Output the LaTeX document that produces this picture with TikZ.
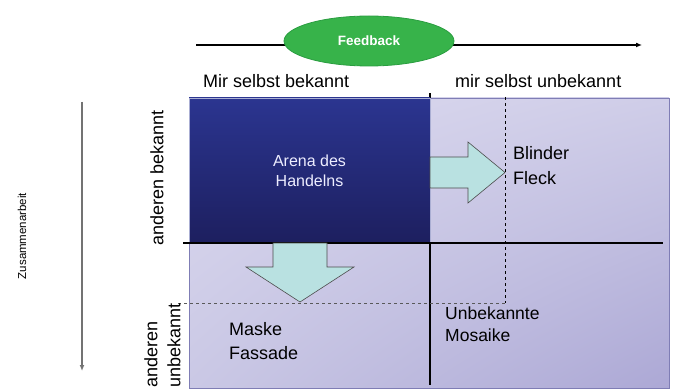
\documentclass[tikz,border=0pt]{standalone}
\usepackage{fontspec}
\setmainfont{Liberation Sans}
\usepackage{xcolor}
\usetikzlibrary{arrows.meta, positioning, shapes.geometric, shadings}

\definecolor{lavUL}{HTML}{DCDAEF}
\definecolor{lavUR}{HTML}{CFCDE8}
\definecolor{lavLL}{HTML}{CAC8E5}
\definecolor{lavLR}{HTML}{ACA8D5}
\definecolor{lavEdge}{HTML}{7F7DB5}
\definecolor{arenaTop}{HTML}{2B3590}
\definecolor{arenaBot}{HTML}{1D1F5F}
\definecolor{tealFill}{HTML}{B9E1E1}
\definecolor{fbGreen}{HTML}{37B34A}
\definecolor{fbEdge}{HTML}{2A9D40}

\begin{document}
\begin{tikzpicture}[x=1pt, y=-1pt,
    font=\fontsize{18}{23}\selectfont,
    axisline/.style={line width=1.4pt, -{Latex[length=6pt, width=5pt]}},
    gridline/.style={line width=1.4pt},
    guide/.style={dashed, line width=0.7pt, dash pattern=on 3pt off 3pt},
    blockarrow/.style={fill=tealFill, draw=black!70, line width=0.6pt},
    quadtext/.style={inner sep=0pt, align=left, anchor=west}]
  \useasboundingbox (0,0) rectangle (679,390);

  % Johari field
  \node[draw=lavEdge, line width=0.6pt, inner sep=0pt, minimum width=480pt, minimum height=290pt,
        upper left=lavUL, upper right=lavUR, lower left=lavLL, lower right=lavLR] (field) at (429,243) {};
  \coordinate (vtop) at (430,93);
  \coordinate (vbot) at (430,385);
  \draw[gridline] (vtop) -- (vbot);
  \node[draw=white!60!arenaTop, line width=0.6pt, top color=arenaTop, bottom color=arenaBot,
        minimum width=241pt, minimum height=145pt, inner sep=0pt,
        text=white!93!blue, align=center, font=\fontsize{16}{20}\selectfont] (arena) at (309.5,170.5) {Arena des\\Handelns};
  \coordinate (hleft) at (183,243);
  \coordinate (hright) at (663,243);
  \draw[gridline] (hleft) -- (hright);

  % Grenzen nach Feedback
  \coordinate (dtop) at (505,97);
  \coordinate (dcorner) at (505,303);
  \coordinate (dleft) at (178,303);
  \draw[guide, black] (dtop) -- (dcorner);
  \draw[guide, black!65] (dleft) -- (dcorner);

  % Block arrows
  \filldraw[blockarrow] (430,157) -- (468,157) -- (468,142) -- (505,172.5) -- (468,203) -- (468,188) -- (430,188) -- cycle;
  \filldraw[blockarrow] (273,243) -- (327,243) -- (327,267) -- (354,267) -- (300,302) -- (246,267) -- (273,267) -- cycle;

  % Feedback axis
  \coordinate (fbstart) at (196,45);
  \coordinate (fbend) at (642,45);
  \draw[axisline] (fbstart) -- (fbend);
  \node[ellipse, fill=fbGreen, draw=fbEdge, line width=0.8pt, minimum width=170pt, minimum height=50pt,
        text=white, font=\fontsize{13.5}{16}\selectfont\bfseries] (fb) at (369,41) {Feedback};

  % Zusammenarbeit axis
  \coordinate (zstart) at (82,102);
  \coordinate (zend) at (82,371);
  \draw[axisline, draw=black!55, fill=black!55, line width=1.9pt] (zstart) -- (zend);
  \node[rotate=90, font=\fontsize{11.5}{13}\selectfont] (zus) at (22,236) {Zusammenarbeit};

  % column and row labels
  \node[anchor=base west, inner sep=0pt] (known) at (203,88) {Mir selbst bekannt};
  \node[anchor=base west, inner sep=0pt] (unknown) at (455,88) {mir selbst unbekannt};
  \node[rotate=90, inner sep=0pt] (others) at (157,178) {anderen bekannt};
  \node[rotate=90, inner sep=0pt, align=left, anchor=west, font=\fontsize{18}{23}\selectfont] (nothers) at (162.5,388) {anderen\\unbekannt};

  % quadrant texts
  \node[quadtext, font=\fontsize{18}{25}\selectfont] (blind) at (513,166) {Blinder\\Fleck};
  \node[quadtext, font=\fontsize{18}{24}\selectfont] (mask) at (229,341) {Maske\\Fassade};
  \node[quadtext, font=\fontsize{17.5}{22}\selectfont] (mosaic) at (445,324) {Unbekannte\\Mosaike};
\end{tikzpicture}
\end{document}
